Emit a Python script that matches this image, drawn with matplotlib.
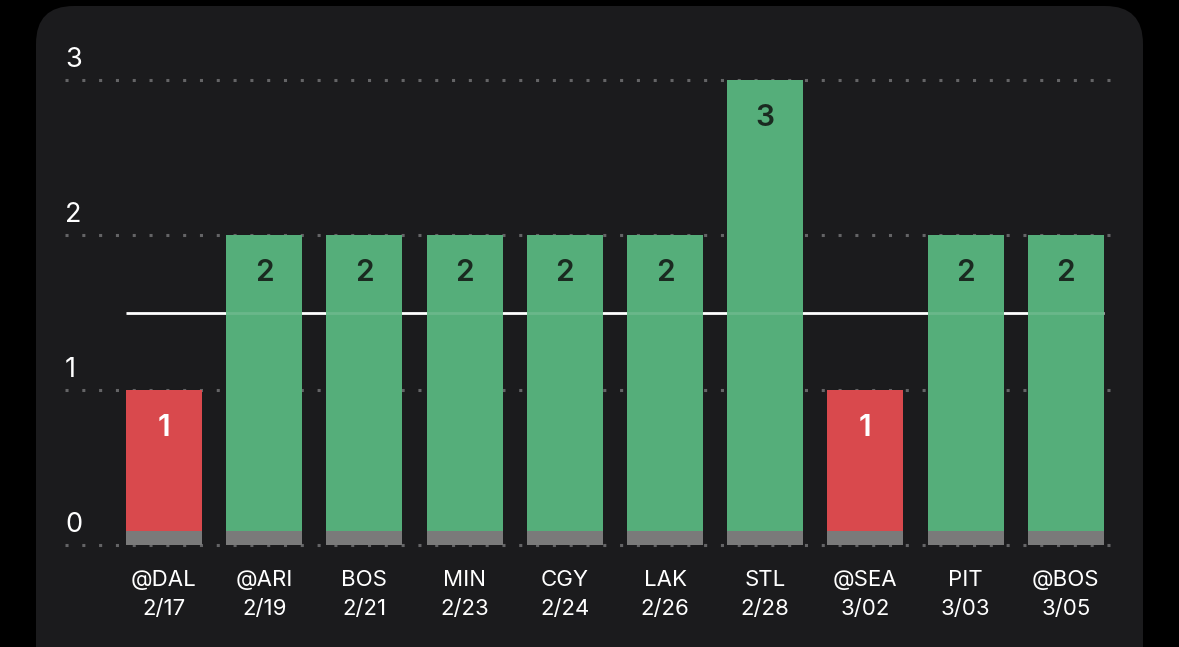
import matplotlib
matplotlib.use('Agg')
import matplotlib.pyplot as plt
from matplotlib.patches import FancyBboxPatch, Rectangle

# game data
opponents = ['@DAL', '@ARI', 'BOS', 'MIN', 'CGY', 'LAK', 'STL', '@SEA', 'PIT', '@BOS']
dates = ['2/17', '2/19', '2/21', '2/23', '2/24', '2/26', '2/28', '3/02', '3/03', '3/05']
values = [1, 2, 2, 2, 2, 2, 3, 1, 2, 2]
threshold = 1.5
yticks = [0, 1, 2, 3]

GREEN = '#55ae7a'
RED = '#d9494d'
BASE = '#7a7a7a'
CARD = '#1b1b1d'
GRID = '#646466'

plt.rcParams['font.family'] = ['Inter', 'DejaVu Sans']

fig = plt.figure(figsize=(11.79, 6.47), dpi=100)
fig.patch.set_facecolor('black')

W, H = 1179, 647
card = FancyBboxPatch((36 / W, -0.1), (1143 - 36) / W, (H - 6) / H + 0.1,
                      boxstyle='round,pad=0,rounding_size=0.032',
                      transform=fig.transFigure, facecolor=CARD, edgecolor='none',
                      mutation_aspect=W / H, zorder=-5)
fig.patches.append(card)

ax = fig.add_axes([65 / W, (H - 545) / H, (1115 - 65) / W, (545 - 80) / H])
ax.set_zorder(2)
ax.set_facecolor('none')
for s in ax.spines.values():
    s.set_visible(False)

xs = list(range(len(values)))
width = 0.758
ax.set_xlim((65 - 164) / 100.2, (1115 - 164) / 100.2)
ax.set_ylim(0, 3)

# dotted gridlines + y labels above them
for t in yticks:
    ax.axhline(t, color=GRID, lw=2.2, linestyle=(0, (1, 4.5)), zorder=0, clip_on=False)
    ax.text(0.0, t + 0.045, str(t), transform=ax.get_yaxis_transform(),
            color='white', fontsize=19.5, ha='left', va='bottom')

# average line
ax.hlines(threshold, -width / 2, xs[-1] + width / 2, color='white', lw=2, zorder=1)

colors = [RED if v < threshold else GREEN for v in values]
ax.bar(xs, values, width=width, color=colors, zorder=2)
for x in xs:
    ax.add_patch(Rectangle((x - width / 2, 0), width, 0.09, color=BASE, zorder=3, lw=0))
# faint line showing through bars
ax.hlines(threshold, -width / 2, xs[-1] + width / 2, color='white', lw=2, alpha=0.12, zorder=4)

for x, v, c in zip(xs, values, colors):
    tc = 'white' if c == RED else '#1a2a20'
    ax.text(x, v - 0.245, str(v), ha='center', va='center', fontsize=21.5,
            fontweight='semibold', color=tc, zorder=5)

ax.set_xticks(xs)
ax.set_xticklabels([f'{o}\n{d}' for o, d in zip(opponents, dates)],
                   color='white', fontsize=16, linespacing=1.55)
ax.tick_params(axis='x', length=0, pad=18)
ax.set_yticks([])

fig.savefig('out.png', dpi=100, facecolor=fig.get_facecolor())
